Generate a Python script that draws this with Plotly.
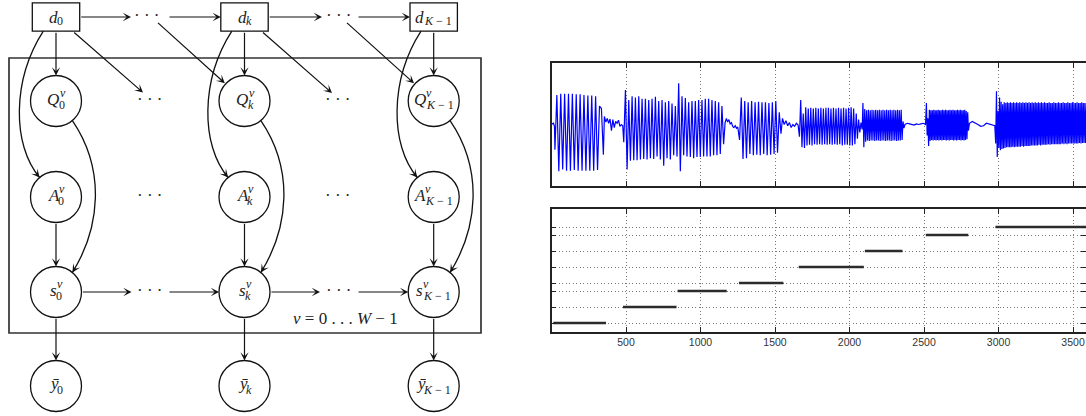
import numpy as np
import plotly.graph_objects as go

# ---------------- data ----------------
# lower panel: detected notes (frame start, frame end, MIDI pitch)
note_start = [12, 480, 846, 1258, 1659, 2103, 2512, 2979]
note_end = [366, 839, 1176, 1556, 2096, 2355, 2797, 3600]
note_pitch = [60, 62, 64, 65, 67, 69, 71, 72]
pitch_ticks = [60, 62, 64, 65, 67, 69, 71, 72]
frame_ticks = [500, 1000, 1500, 2000, 2500, 3000, 3500]
frame_labels = ["500", "1000", "1500", "2000", "2500", "3000", "3500"]

# upper panel: waveform, extremes read per segment (start/end frame + values)
wave_seg_start = [0, 23, 355, 485, 1165, 1262, 1550, 1664, 2045, 2090, 2372, 2516, 2805, 2981]
wave_seg_end = [20, 348, 478, 1155, 1250, 1540, 1655, 2036, 2085, 2365, 2510, 2798, 2975, 3600]

pre_vals = [0.02, 0.01, 0.02, -0.03]
note1_vals = [-0.41, 0.48, -0.76, 0.50, -0.73, 0.50, -0.75, 0.50, -0.75, 0.50, -0.74, 0.49, -0.75,
              0.49, -0.75, 0.48, -0.75, 0.47, -0.75, 0.47, -0.75, 0.46, -0.74, 0.30, 0.26, -0.49]
gap1_vals = [0.13, 0.04, 0.10, 0.02, 0.09, -0.10, 0.08, -0.05, 0.05, 0.02, 0.07, -0.03, 0.0, -0.02]
note2_vals = [-0.29, 0.56, -0.73, 0.40, -0.59, 0.46, -0.58, 0.44, -0.58, 0.46, -0.57, 0.42, -0.56,
              0.42, -0.57, 0.40, -0.55, 0.42, -0.56, 0.45, -0.52, 0.38, -0.57, 0.40, -0.67, 0.36,
              -0.55, 0.38, -0.57, 0.34, -0.50, 0.30, -0.52, 0.67, -0.76, 0.46, -0.50, 0.43, -0.52,
              0.36, -0.53, 0.38, -0.55, 0.38, -0.53, 0.40, -0.53, 0.40, -0.52, 0.42, -0.52, 0.42,
              -0.52, 0.40, -0.50, 0.38, -0.50, 0.36, -0.48, 0.30, -0.32]
gap2_vals = [0.03, 0.10, 0.04, 0.08, 0.01, 0.03, -0.03, -0.05, -0.02, -0.06, -0.04]
note3_vals = [-0.25, 0.44, -0.56, 0.38, -0.55, 0.36, -0.48, 0.38, -0.50, 0.36, -0.49, 0.37, -0.50,
              0.36, -0.48, 0.36, -0.50, 0.35, -0.49, 0.36, -0.48, 0.38, -0.46, 0.20, -0.15]
gap3_vals = [0.10, 0.0, 0.06, -0.02, 0.03, -0.05, 0.0, -0.03, 0.02, -0.01]
note4_vals = [-0.20, 0.40, -0.37, 0.18, -0.38, 0.28, -0.34, 0.26, -0.33, 0.27, -0.34, 0.26, -0.32,
              0.27, -0.33, 0.26, -0.32, 0.27, -0.33, 0.26, -0.32, 0.27, -0.33, 0.27, -0.32, 0.26,
              -0.33, 0.27, -0.32, 0.26, -0.33, 0.27, -0.32, 0.26, -0.34, 0.27, -0.33, 0.26, -0.33,
              0.27, -0.34, 0.28, -0.34, 0.26, -0.32]
gap4_vals = [0.18, -0.23, 0.08, -0.13, 0.03, -0.08]
note5_vals = [0.35, -0.37, 0.25, -0.28, 0.23, -0.26, 0.24, -0.27, 0.23, -0.26, 0.24, -0.26, 0.23,
              -0.27, 0.24, -0.26, 0.23, -0.26, 0.24, -0.27, 0.23, -0.26, 0.24, -0.26, 0.23, -0.27,
              0.24, -0.26, 0.23, -0.26, 0.24, -0.27, 0.23, -0.26, 0.24, -0.26, 0.23, -0.27, 0.24,
              -0.26, 0.23, -0.26, 0.24, -0.25, 0.05, -0.06]
gap5_vals = [0.0, 0.02, 0.01, 0.0, -0.01, 0.01, 0.0, 0.01, 0.02, 0.0]
note6_vals = [0.35, -0.18, 0.10, -0.35, 0.24, -0.27, 0.23, -0.25, 0.23, -0.26, 0.24, -0.25, 0.23,
              -0.26, 0.23, -0.25, 0.24, -0.26, 0.23, -0.25, 0.23, -0.26, 0.24, -0.25, 0.23, -0.25,
              0.24, -0.26, 0.23, -0.25, 0.23, -0.26, 0.24, -0.25, 0.23, -0.25, 0.24, -0.26, 0.23,
              -0.25, 0.23, -0.26, 0.24, -0.25, 0.23, -0.25, 0.24, -0.26, 0.23, -0.25, 0.23, -0.26,
              0.24, -0.25, 0.22, -0.24, 0.20, -0.10]
gap6_vals = [0.02, 0.05, 0.03, 0.0, -0.03, -0.02, 0.02, 0.01, 0.0, -0.02]
note7_vals = [-0.31, 0.54, -0.53, 0.22, -0.38, 0.44, -0.42, 0.37, -0.40, 0.33, -0.39, 0.36, -0.38,
              0.35, -0.37, 0.36, -0.37, 0.35, -0.37, 0.36, -0.37, 0.35, -0.36, 0.36, -0.37, 0.35,
              -0.36, 0.36, -0.36, 0.35, -0.36, 0.36, -0.36, 0.35, -0.35, 0.36, -0.36, 0.35, -0.35,
              0.36, -0.35, 0.35, -0.35, 0.36, -0.35, 0.35, -0.34, 0.36, -0.34, 0.35, -0.34, 0.36,
              -0.34, 0.35, -0.34, 0.36, -0.33, 0.35, -0.34, 0.36, -0.33, 0.35, -0.33, 0.36, -0.33,
              0.35, -0.33, 0.35, -0.32, 0.36, -0.33, 0.35, -0.32, 0.35, -0.32, 0.36, -0.32, 0.35,
              -0.32, 0.35, -0.32, 0.36, -0.32, 0.35, -0.32, 0.35, -0.31, 0.36, -0.32, 0.35, -0.31,
              0.35, -0.32, 0.36, -0.31, 0.35, -0.31, 0.35, -0.31, 0.36, -0.31, 0.35, -0.31, 0.35,
              -0.31, 0.36, -0.31, 0.35, -0.30, 0.35, -0.31, 0.36, -0.30, 0.35, -0.30, 0.35, -0.30,
              0.35, -0.30, 0.35]

wave_parts = [pre_vals, note1_vals, gap1_vals, note2_vals, gap2_vals, note3_vals, gap3_vals,
              note4_vals, gap4_vals, note5_vals, gap5_vals, note6_vals, gap6_vals, note7_vals]

# ---------------- figure ----------------
W, H = 1086, 416
fig = go.Figure()

wx, wy = [], []
for t0, t1, vals in zip(wave_seg_start, wave_seg_end, wave_parts):
    wx.extend(np.linspace(t0, t1, len(vals)).tolist())
    wy.extend(vals)
fig.add_trace(go.Scatter(x=wx, y=wy, mode="lines", line=dict(color="#0000ff", width=1.2),
                         xaxis="x", yaxis="y", hoverinfo="skip", showlegend=False))

sx, sy = [], []
for a, b, p in zip(note_start, note_end, note_pitch):
    sx += [a, b, None]
    sy += [p, p, None]
fig.add_trace(go.Scatter(x=sx, y=sy, mode="lines", line=dict(color="#2b2b2b", width=2.6),
                         xaxis="x2", yaxis="y2", hoverinfo="skip", showlegend=False))
fig.add_trace(go.Scatter(x=[1000], y=[65], mode="markers", marker=dict(opacity=0),
                         xaxis="x2", yaxis="y4", hoverinfo="skip", showlegend=False))
fig.add_trace(go.Scatter(x=[0], y=[0], mode="markers", marker=dict(opacity=0),
                         xaxis="x3", yaxis="y3", hoverinfo="skip", showlegend=False))

AX = "#222222"
GRID = "#7a7a7a"
GDASH = "1px,2.5px"
xl = 551.5 / W
x_common = dict(domain=[xl, 1], range=[0, 3587], tickmode="array", tickvals=frame_ticks,
                ticks="inside", ticklen=5, tickwidth=1.3, tickcolor=AX, showline=True,
                linewidth=1.6, linecolor=AX, mirror="ticks", showgrid=True, gridcolor=GRID,
                gridwidth=1, griddash=GDASH, zeroline=False, fixedrange=True)
pitch_range = [58.875, 74.25]

fig.update_layout(
    width=W, height=H, margin=dict(l=0, r=0, t=0, b=0),
    paper_bgcolor="white", plot_bgcolor="white", showlegend=False,
    xaxis=dict(**x_common, anchor="y", showticklabels=False),
    xaxis2=dict(**x_common, anchor="y2", ticktext=frame_labels,
                tickfont=dict(family="Liberation Sans", size=10.5, color="#333333")),
    yaxis=dict(domain=[(H - 186) / H, (H - 63) / H], range=[-1, 1], anchor="x",
               showline=True, linewidth=1.6, linecolor=AX, ticks="", showgrid=False,
               zeroline=False, showticklabels=False, fixedrange=True),
    yaxis2=dict(domain=[(H - 332) / H, (H - 209) / H], range=pitch_range, anchor="x2",
                tickmode="array", tickvals=pitch_ticks, ticks="inside", ticklen=5, tickwidth=1.3,
                tickcolor=AX, showline=True, linewidth=1.6, linecolor=AX, showgrid=True,
                gridcolor=GRID, gridwidth=1, griddash=GDASH, zeroline=False,
                showticklabels=False, fixedrange=True),
    yaxis4=dict(overlaying="y2", side="right", anchor="free", position=1.0, range=pitch_range,
                tickmode="array", tickvals=pitch_ticks, ticks="inside", ticklen=5, tickwidth=1.3,
                tickcolor=AX, showline=False, showgrid=False, zeroline=False,
                showticklabels=False, fixedrange=True),
    xaxis3=dict(domain=[0, 500 / W], range=[0, 500], visible=False, anchor="y3", fixedrange=True),
    yaxis3=dict(domain=[0, 1], range=[H, 0], visible=False, anchor="x3", fixedrange=True),
)

# ---------------- graphical model diagram (pixel coordinates on x3/y3) ----------------
cols = [56, 244.5, 433.7]
D_Y, Q_Y, A_Y, S_Y, Y_Y = 17, 101, 197, 292, 386
R = 25.5
BW, BH = 23.7, 14.2
INK = "#111111"
line_k = dict(color=INK, width=1.3)
ref = dict(xref="x3", yref="y3")

shapes = []
annos = []

for cx in cols:
    shapes.append(dict(type="rect", x0=cx - BW, x1=cx + BW, y0=D_Y - BH, y1=D_Y + BH,
                       line=line_k, **ref))
    for cy in (Q_Y, A_Y, S_Y, Y_Y):
        shapes.append(dict(type="circle", x0=cx - R, x1=cx + R, y0=cy - R, y1=cy + R,
                           line=line_k, **ref))
shapes.append(dict(type="rect", x0=9, x1=481, y0=58, y1=333,
                   line=dict(color="#333333", width=1.7), **ref))


def arrow(x0, y0, x1, y1):
    annos.append(dict(x=x1, y=y1, ax=x0, ay=y0, xref="x3", yref="y3", axref="x3", ayref="y3",
                      text="", showarrow=True, arrowhead=3, arrowsize=1.15, arrowwidth=1.2,
                      arrowcolor=INK, standoff=0, startstandoff=0))


def on_circle(cx, cy, fx, fy, r):
    v = np.array([fx - cx, fy - cy], dtype=float)
    v /= np.hypot(*v)
    return cx + r * v[0], cy + r * v[1]


def curve(p0, p1, p2, p3):
    shapes.append(dict(type="path", path=f"M {p0[0]},{p0[1]} C {p1[0]},{p1[1]} {p2[0]},{p2[1]} {p3[0]},{p3[1]}",
                       line=line_k, **ref))
    d = np.array(p3) - np.array(p2)
    d /= np.hypot(*d)
    arrow(p3[0] - 7 * d[0], p3[1] - 7 * d[1], p3[0], p3[1])


# horizontal chains
arrow(cols[0] + BW, D_Y, 131, D_Y)
arrow(168, D_Y, cols[1] - BW, D_Y)
arrow(cols[1] + BW, D_Y, 322, D_Y)
arrow(357, D_Y, cols[2] - BW, D_Y)
arrow(cols[0] + R, S_Y, 131.5, S_Y)
arrow(168, S_Y, cols[1] - R, S_Y)
arrow(cols[1] + R, S_Y, 320, S_Y)
arrow(357, S_Y, cols[2] - R, S_Y)

# diagonals
arrow(cols[0] + 16.7, D_Y + BH, 143, 92.5)
arrow(cols[1] + 17, D_Y + BH, 332, 93)
ex, ey = on_circle(cols[1], Q_Y, 156.5, 21.5, R + 1)
arrow(156.5, 21.5, ex, ey)
ex, ey = on_circle(cols[2], Q_Y, 345.5, 21.5, R + 1)
arrow(345.5, 21.5, ex, ey)

s40, c40 = np.sin(np.radians(40)), np.cos(np.radians(40))
for cx in cols:
    arrow(cx, D_Y + BH, cx, Q_Y - R)
    arrow(cx, A_Y + R, cx, S_Y - R)
    arrow(cx, S_Y + R, cx, Y_Y - R)
    # d -> A (bulging left)
    curve((cx - 12.7, D_Y + BH), (cx - 44, 80), (cx - 44, 145),
          (cx - R * s40, A_Y - R * c40))
    # Q -> s (bulging right)
    curve((cx + R * s40, Q_Y + R * c40), (cx + 50, 170), (cx + 44, 228),
          (cx + R * s40, S_Y - R * c40))


def txt(x, y, s, size, xanchor="left"):
    annos.append(dict(x=x, y=y, xref="x3", yref="y3", text=s, showarrow=False,
                      xanchor=xanchor, yanchor="middle", borderpad=0, borderwidth=0,
                      font=dict(family="Liberation Serif", size=size, color="#222222")))


# dots
for (x, y) in [(146, D_Y), (338, D_Y), (149, Q_Y), (337.5, Q_Y), (149, A_Y), (337.5, A_Y),
               (149.5, S_Y), (338, S_Y)]:
    txt(x, y - 1.5, "·&nbsp;·&nbsp;·", 17, xanchor="center")

MAIN, SCR = 17, 12
subs = [("0", 6.0), ("<i>k</i>", 5.3), ("<i>K</i> − 1", 28.1)]


def node(cx, cy, main, main_w, main_dy, sub, sub_w, sup=None):
    left = cx - (main_w + sub_w) / 2
    txt(left, cy + main_dy, f"<i>{main}</i>", MAIN)
    if sup:
        txt(left + main_w + 0.5, cy - 8.3, f"<i>{sup}</i>", SCR)
    txt(left + main_w, cy + 4, sub, SCR)


for cx, (sb, sw) in zip(cols, subs):
    node(cx, D_Y, "d", 8.5, 0, sb, sw)
    node(cx, Q_Y, "Q", 12.3, -2, sb, sw, sup="ν")
    node(cx, A_Y, "A", 10.4, -2, sb, sw, sup="ν")
    node(cx, S_Y, "s", 6.6, -2, sb, sw, sup="ν")
    node(cx, Y_Y, "ȳ", 7.5, -2.5, sb, sw)

txt(345, 318, "<i>ν</i> = 0 . . . <i>W</i> − 1", 17, xanchor="center")

fig.update_layout(shapes=shapes, annotations=annos)
fig.write_html("out.html", config={"displayModeBar": False},
               post_script="document.body.style.margin='0';document.body.style.overflow='hidden';")
